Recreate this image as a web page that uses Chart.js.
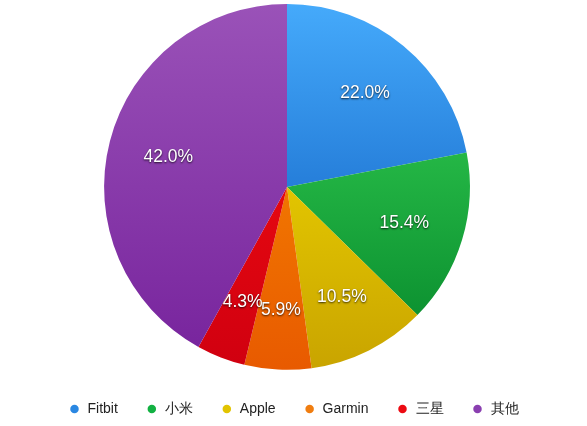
<!DOCTYPE html>
<html>
<head>
<meta charset="utf-8">
<script src="https://cdn.jsdelivr.net/npm/chart.js@4/dist/chart.umd.min.js"></script>
<style>
  html, body { margin: 0; padding: 0; background: #fff; }
  #wrap { width: 587px; height: 426px; }
</style>
</head>
<body>
<div id="wrap"><canvas id="chart"></canvas></div>
<script>
var labels = ["Fitbit", "小米", "Apple", "Garmin", "三星", "其他"];
var shares = [22.0, 15.4, 10.5, 5.9, 4.3, 42.0];

var flatColors = ["#2a87e2", "#12b142", "#e2c400", "#f07d10", "#ec0a12", "#8a3fb0"];
var topColors = ["#45aafb", "#3ad858", "#fbe600", "#fa9200", "#fa1010", "#9a52b8"];
var bottomColors = ["#0652b8", "#05862a", "#c9a400", "#e85a00", "#d00010", "#76229c"];

function sliceGradient(context) {
  var chart = context.chart;
  var area = chart.chartArea;
  var i = context.dataIndex;
  if (!area) return flatColors[i];
  var g = chart.ctx.createLinearGradient(0, area.top, 0, area.bottom);
  g.addColorStop(0, topColors[i]);
  g.addColorStop(1, bottomColors[i]);
  return g;
}

// percentage text inside each slice, about two thirds of the way out
var sliceLabels = {
  id: "sliceLabels",
  afterDatasetsDraw: function (chart) {
    var ctx = chart.ctx;
    var meta = chart.getDatasetMeta(0);
    ctx.save();
    ctx.font = "17.5px 'Liberation Sans', Arial, sans-serif";
    ctx.textAlign = "center";
    ctx.textBaseline = "middle";
    ctx.fillStyle = "#ffffff";
    ctx.shadowColor = "rgba(0,0,0,0.8)";
    ctx.shadowBlur = 2;
    ctx.shadowOffsetX = 0;
    ctx.shadowOffsetY = 1;
    meta.data.forEach(function (arc, i) {
      var p = arc.getProps(["x", "y", "startAngle", "endAngle", "outerRadius"], true);
      var mid = (p.startAngle + p.endAngle) / 2;
      var r = p.outerRadius * 0.67;
      ctx.fillText(shares[i].toFixed(1) + "%", p.x + Math.cos(mid) * r, p.y + Math.sin(mid) * r + 1);
    });
    ctx.restore();
  },
};

// the pie sits a little left of centre but the legend is centred on the canvas
var legendFullWidth = {
  id: "legendFullWidth",
  afterLayout: function (chart) {
    var legend = chart.legend;
    legend.left = 0;
    legend.right = chart.width;
    legend.width = chart.width;
  },
};

new Chart(document.getElementById("chart").getContext("2d"), {
  type: "pie",
  data: {
    labels: labels,
    datasets: [
      {
        data: shares,
        backgroundColor: sliceGradient,
        borderWidth: 0,
      },
    ],
  },
  options: {
    responsive: true,
    maintainAspectRatio: false,
    animation: false,
    layout: { padding: { top: 4, right: 13, bottom: 0, left: 0 } },
    plugins: {
      tooltip: { enabled: false },
      legend: {
        display: true,
        position: "bottom",
        title: { display: true, text: "", font: { size: 1 }, padding: { top: 0, bottom: 3 } },
        labels: {
          usePointStyle: true,
          pointStyle: "circle",
          boxWidth: 12,
          boxHeight: 6,
          padding: 28,
          color: "#222",
          font: { size: 14, family: "'Liberation Sans', Arial, sans-serif" },
          generateLabels: function (chart) {
            var items = Chart.overrides.pie.plugins.legend.labels.generateLabels(chart);
            items.forEach(function (item, i) {
              item.fillStyle = flatColors[i];
              item.strokeStyle = flatColors[i];
              item.lineWidth = 0;
            });
            return items;
          },
        },
      },
    },
  },
  plugins: [sliceLabels, legendFullWidth],
});
</script>
</body>
</html>
